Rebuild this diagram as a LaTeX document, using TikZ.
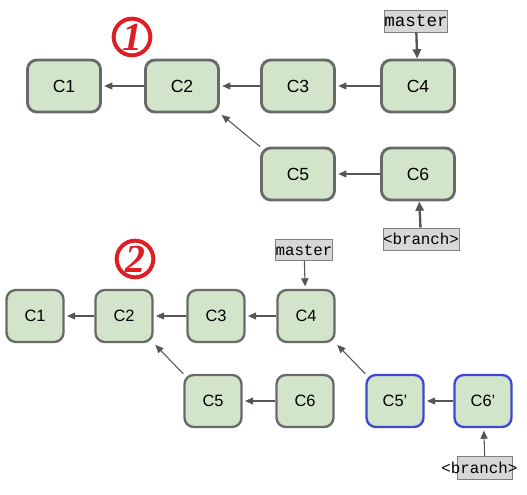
\documentclass[tikz,border=0pt]{standalone}
\usepackage{fontspec}
\setmainfont{Liberation Sans}
\setmonofont{Liberation Mono}
\newfontfamily\numfont{Liberation Serif}
\usepackage{tikz}
\usepackage{xcolor}
\usetikzlibrary{positioning, arrows.meta}

\definecolor{commitfill}{RGB}{210,229,203}
\definecolor{commitline}{RGB}{105,105,105}
\definecolor{rebaseline}{RGB}{62,72,212}
\definecolor{reffill}{RGB}{214,216,214}
\definecolor{arrowgray}{RGB}{85,85,85}
\definecolor{badgered}{RGB}{222,30,36}

\begin{document}
\begin{tikzpicture}[x=0.03cm, y=-0.03cm,
    commit/.style={rectangle, rounded corners=8pt, draw=commitline, fill=commitfill, line width=2.4pt, minimum width=2.19cm, minimum height=1.56cm, font=\fontsize{15}{15}\selectfont},
    small/.style={commit, minimum width=1.71cm, line width=2pt, font=\fontsize{14}{14}\selectfont},
    rebased/.style={small, draw=rebaseline},
    refbox/.style={rectangle, draw=gray, fill=reffill, inner xsep=0pt, inner ysep=4.5pt, font=\ttfamily\fontsize{13.5}{13.5}\selectfont},
    parent/.style={draw=arrowgray, line width=0.9pt, -{Triangle[length=7pt,width=6pt]}, shorten >=2pt},
    pointer/.style={draw=arrowgray, line width=2pt, -{Triangle[length=8pt,width=7pt]}},
    badge/.style={circle, draw=badgered, line width=3.4pt, minimum size=1.1cm, inner sep=0pt, text=badgered, font=\numfont\bfseries\itshape\fontsize{34}{34}\selectfont}]
    \useasboundingbox (0,0) rectangle (527,494);

    % before the rebase
    \node[badge] (n1) at (132,37) {1};
    \node[commit] (a1) at (64,86) {C1};
    \node[commit] (a2) at (182,86) {C2};
    \node[commit] (a3) at (298,86) {C3};
    \node[commit] (a4) at (418,86) {C4};
    \node[commit] (a5) at (298,174) {C5};
    \node[commit] (a6) at (418,174) {C6};
    \node[refbox, font=\ttfamily\fontsize{15}{15}\selectfont] (am) at (416,21) {master};
    \node[refbox] (ab) at (421,239) {<branch>};

    \draw[parent] (a2) -- (a1);
    \draw[parent] (a3) -- (a2);
    \draw[parent] (a4) -- (a3);
    \draw[parent] (a6) -- (a5);
    \draw[parent] (a5.north west) -- (a2.south east);
    \draw[pointer] (am) -- (a4);
    \draw[pointer] (ab) -- (a6);

    % after the rebase
    \node[badge] (n2) at (135,259) {2};
    \node[small] (b1) at (35,316) {C1};
    \node[small] (b2) at (124,316) {C2};
    \node[small] (b3) at (216,316) {C3};
    \node[small] (b4) at (306,316) {C4};
    \node[small] (b5) at (213,401) {C5};
    \node[small] (b6) at (305,401) {C6};
    \node[rebased] (b5r) at (395,401) {C5'};
    \node[rebased] (b6r) at (483,401) {C6'};
    \node[refbox, minimum width=1.5cm] (bm) at (304,250) {master};
    \node[refbox, minimum width=1.65cm, minimum height=0.69cm, label={[font=\ttfamily\fontsize{13.5}{13.5}\selectfont, xshift=-0.17cm]center:<branch>}] (bb) at (485,468) {};

    \draw[parent] (b2) -- (b1);
    \draw[parent] (b3) -- (b2);
    \draw[parent] (b4) -- (b3);
    \draw[parent] (b6) -- (b5);
    \draw[parent] (b6r) -- (b5r);
    \draw[parent] (b5.north west) -- (b2.south east);
    \draw[parent] (b5r.north west) -- (b4.south east);
    \draw[parent] (bm) -- (b4);
    \draw[parent] (bb) -- (b6r);
\end{tikzpicture}
\end{document}
